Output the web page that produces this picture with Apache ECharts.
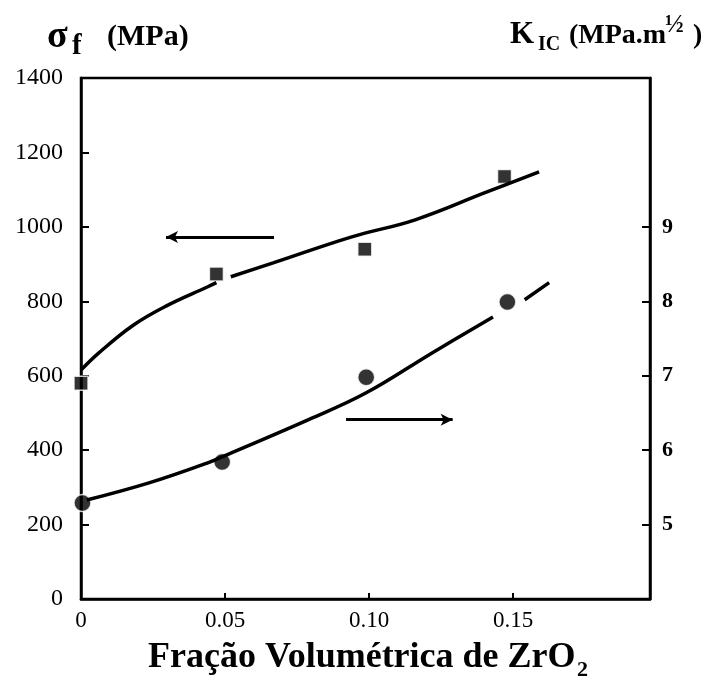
<!DOCTYPE html>
<html>
<head>
<meta charset="utf-8">
<script src="https://cdn.jsdelivr.net/npm/echarts@6/dist/echarts.min.js"></script>
<style>
  html, body { margin: 0; padding: 0; background: #fff; }
  #container { width: 720px; height: 682px; }
</style>
</head>
<body>
<div id="container"></div>
<script>
var dom = document.getElementById('container');
var myChart = echarts.init(dom, null, { renderer: 'canvas' });

// tick labels
var xTicks = [0, 0.05, 0.10, 0.15];
var sigmaTicks = [0, 200, 400, 600, 800, 1000, 1200, 1400];
var kicTicks = [5, 6, 7, 8, 9];

// measured points
var sigmaX = [0, 0.047, 0.0985, 0.147];
var sigmaY = [580, 873, 940, 1135];
var kicX = [0.0005, 0.049, 0.099, 0.148];
var kicY = [5.29, 5.84, 6.98, 7.99];

// fitted curves (null = gap in the line)
var sigmaFitX = [0, 0.006, 0.018, 0.0295, 0.044, 0.047, 0.049, 0.052, 0.0667, 0.094, 0.116, 0.140, 0.159];
var sigmaFitY = [615, 660, 735, 787, 839, 850, null, 866, 903, 973, 1019, 1091, 1148];
var kicFitX = [0.002, 0.0236, 0.044, 0.052, 0.079, 0.099, 0.122, 0.143, 0.148, 0.154, 0.1625];
var kicFitY = [5.33, 5.56, 5.83, 5.96, 6.41, 6.77, 7.31, 7.79, null, 8.02, 8.25];

// arrows: [fromX, toX, level]
var sigmaArrow = [0.067, 0.0295, 973];
var kicArrow = [0.092, 0.129, 6.41];

function pairs(xs, ys) {
    return xs.map(function (x, i) { return [x, ys[i]]; });
}

var serif = 'Liberation Serif';

function txt(s, x, y, size) {
    return { type: 'text', left: x, top: y, style: { text: s, font: 'bold ' + size + 'px ' + serif, fill: '#000' } };
}

var option = {
    animation: false,
    grid: {
        left: 81, right: 70, top: 78, bottom: 83,
        show: true, borderColor: '#000', borderWidth: 2.5
    },
    graphic: [
        txt('σ', 47, 18, 38),
        txt('f', 72, 32, 29),
        txt('(MPa)', 107, 22, 30),
        txt('K', 510, 19, 31),
        txt('IC', 538, 35, 20),
        txt('(MPa.m', 569, 22, 28),
        txt('½', 665, 13, 25),
        txt(')', 693, 22, 28),
        txt('Fração Volumétrica de ZrO', 148, 640, 36),
        txt('2', 577, 659, 22)
    ],
    xAxis: {
        type: 'value',
        min: 0,
        max: 0.1975,
        splitLine: { show: false },
        axisLine: { lineStyle: { color: '#000', width: 2.5 } },
        axisTick: { inside: true, length: 6, lineStyle: { color: '#000', width: 2 }, customValues: [0.05, 0.10, 0.15] },
        axisLabel: {
            customValues: xTicks,
            margin: 10,
            color: '#000',
            fontFamily: serif,
            fontSize: 23,
            formatter: function (v) { return v === 0 ? '0' : v.toFixed(2); }
        }
    },
    yAxis: [
        {
            type: 'value',
            min: 0, max: 1400, interval: 200,
            splitLine: { show: false },
            axisLine: { show: true, lineStyle: { color: '#000', width: 2.5 } },
            axisTick: { show: true, inside: true, length: 8, lineStyle: { color: '#000', width: 2 }, customValues: sigmaTicks.slice(1, 7) },
            axisLabel: {
                customValues: sigmaTicks, margin: 18, color: '#000', fontFamily: serif, fontSize: 24,
                formatter: function (v) { return String(v); }
            }
        },
        {
            type: 'value',
            min: 4, max: 11, interval: 1,
            position: 'right',
            splitLine: { show: false },
            axisLine: { show: true, lineStyle: { color: '#000', width: 2.5 } },
            axisTick: { show: true, inside: true, length: 8, lineStyle: { color: '#000', width: 2 }, customValues: kicTicks },
            axisLabel: { customValues: kicTicks, margin: 12, color: '#000', fontFamily: serif, fontSize: 22, fontWeight: 'bold' }
        }
    ],
    series: [
        {
            name: 'sigma fit',
            type: 'line',
            yAxisIndex: 0,
            smooth: 0.4,
            showSymbol: false,
            connectNulls: false,
            silent: true,
            data: pairs(sigmaFitX, sigmaFitY),
            lineStyle: { color: '#000', width: 3.5 },
            markLine: {
                silent: true,
                symbol: ['none', 'arrow'],
                symbolSize: [9, 12],
                label: { show: false },
                lineStyle: { color: '#000', width: 3, type: 'solid' },
                data: [[{ coord: [sigmaArrow[0], sigmaArrow[2]] }, { coord: [sigmaArrow[1], sigmaArrow[2]] }]]
            }
        },
        {
            name: 'kic fit',
            type: 'line',
            yAxisIndex: 1,
            smooth: 0.4,
            showSymbol: false,
            connectNulls: false,
            silent: true,
            data: pairs(kicFitX, kicFitY),
            lineStyle: { color: '#000', width: 3.5 },
            markLine: {
                silent: true,
                symbol: ['none', 'arrow'],
                symbolSize: [9, 12],
                label: { show: false },
                lineStyle: { color: '#000', width: 3, type: 'solid' },
                data: [[{ coord: [kicArrow[0], kicArrow[2]] }, { coord: [kicArrow[1], kicArrow[2]] }]]
            }
        },
        {
            name: 'sigma',
            type: 'scatter',
            yAxisIndex: 0,
            symbol: 'rect',
            symbolSize: 14,
            silent: true,
            data: pairs(sigmaX, sigmaY),
            itemStyle: { color: '#000', borderColor: '#fff', borderWidth: 1.5 }
        },
        {
            name: 'kic',
            type: 'scatter',
            yAxisIndex: 1,
            symbol: 'circle',
            symbolSize: 17,
            silent: true,
            data: pairs(kicX, kicY),
            itemStyle: { color: '#000', borderColor: '#fff', borderWidth: 1.5 }
        }
    ]
};

myChart.setOption(option);
window.addEventListener('resize', myChart.resize);
</script>
</body>
</html>
